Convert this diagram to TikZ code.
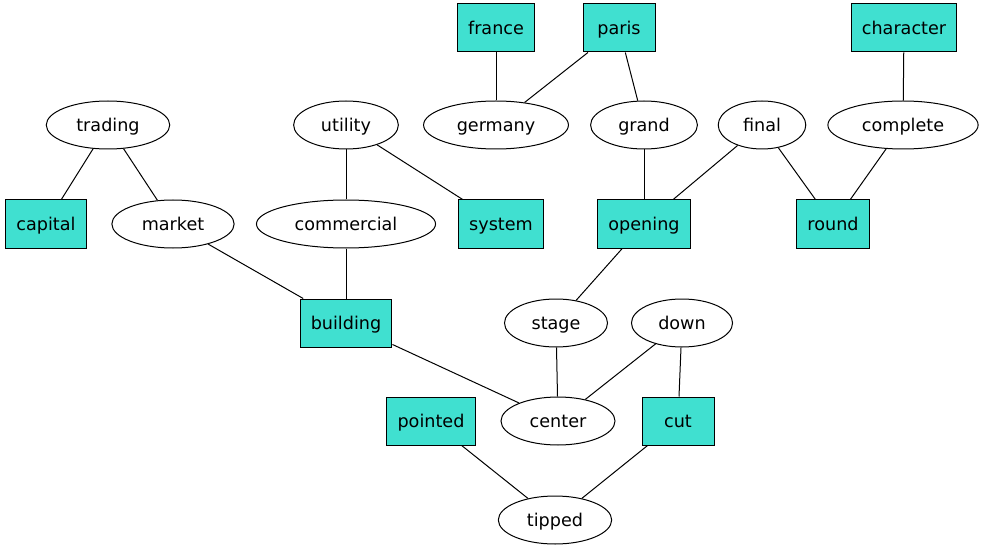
\documentclass[tikz,border=0pt]{standalone}
\usepackage{fontspec}
\setmainfont{DejaVu Sans}
\usetikzlibrary{shapes.geometric}

\tikzset{
  wordbox/.style={draw=black, line width=0.75pt, fill={rgb,255:red,64;green,224;blue,208}, rectangle, minimum width=54pt, minimum height=36pt, inner xsep=8pt, text height=11.2pt, text depth=1.2pt, font=\fontsize{13.2}{15}\selectfont},
  wordoval/.style={draw=black, line width=0.75pt, ellipse, minimum width=54pt, minimum height=36pt, inner xsep=9pt, inner ysep=2pt, text height=11.2pt, text depth=1.2pt, font=\fontsize{13.2}{15}\selectfont},
  link/.style={draw=black, line width=0.75pt}
}

\begin{document}
\begin{tikzpicture}[x=0.75pt,y=-0.75pt]
  \useasboundingbox (0,0) rectangle (984,552);
  % top row
  \node[wordbox] (france) at (496,28) {france};
  \node[wordbox] (paris) at (619,28) {paris};
  \node[wordbox] (character) at (904,28) {character};
  % second row
  \node[wordoval] (trading) at (108,125) {trading};
  \node[wordoval] (utility) at (346,125) {utility};
  \node[wordoval] (germany) at (496,125) {germany};
  \node[wordoval] (grand) at (644,125) {grand};
  \node[wordoval] (final) at (762,125) {final};
  \node[wordoval] (complete) at (903,125) {complete};
  % third row
  \node[wordbox] (capital) at (46,224) {capital};
  \node[wordoval] (market) at (173,224) {market};
  \node[wordoval] (commercial) at (346,224) {commercial};
  \node[wordbox] (system) at (501,224) {system};
  \node[wordbox] (opening) at (644,224) {opening};
  \node[wordbox] (round) at (833,224) {round};
  % fourth row
  \node[wordbox] (building) at (346,323) {building};
  \node[wordoval] (stage) at (556,323) {stage};
  \node[wordoval] (down) at (682,323) {down};
  % fifth row
  \node[wordbox] (pointed) at (431,421) {pointed};
  \node[wordoval] (center) at (558,421) {center};
  \node[wordbox] (cut) at (678,421) {cut};
  % bottom
  \node[wordoval] (tipped) at (555,520) {tipped};

  \draw[link] (france) -- (germany);
  \draw[link] (paris) -- (germany);
  \draw[link] (paris) -- (grand);
  \draw[link] (character) -- (complete);
  \draw[link] (trading) -- (capital);
  \draw[link] (trading) -- (market);
  \draw[link] (utility) -- (commercial);
  \draw[link] (utility) -- (system);
  \draw[link] (grand) -- (opening);
  \draw[link] (final) -- (opening);
  \draw[link] (final) -- (round);
  \draw[link] (complete) -- (round);
  \draw[link] (market) -- (building);
  \draw[link] (commercial) -- (building);
  \draw[link] (opening) -- (stage);
  \draw[link] (building) -- (center);
  \draw[link] (stage) -- (center);
  \draw[link] (down) -- (center);
  \draw[link] (down) -- (cut);
  \draw[link] (pointed) -- (tipped);
  \draw[link] (cut) -- (tipped);
\end{tikzpicture}
\end{document}
